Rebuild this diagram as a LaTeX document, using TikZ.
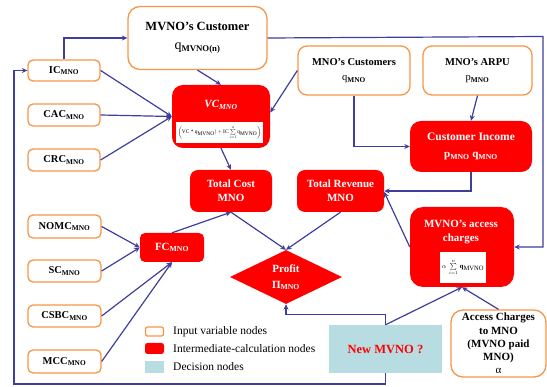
\documentclass[tikz,border=0pt]{standalone}
\usepackage{fontspec}
\usepackage{graphicx}
\setmainfont{Liberation Serif}
\usetikzlibrary{shapes.geometric,arrows.meta}
\definecolor{inorange}{RGB}{247,150,70}
\definecolor{calcred}{RGB}{255,0,0}
\definecolor{decblue}{RGB}{183,221,226}
\definecolor{linkblue}{RGB}{62,62,158}
\newcommand\sub[1]{\textsubscript{#1}}
\newcommand\tx[1]{\mbox{#1}}
\begin{document}
\begin{tikzpicture}[x=1pt,y=-1pt,
  inbox/.style={draw=inorange, line width=1.3pt, rounded corners=5pt, fill=white,
    inner sep=0pt, align=center, font=\bfseries\fontsize{10.5}{13}\selectfont},
  calcbox/.style={fill=calcred, rounded corners=8pt, inner sep=0pt, align=center,
    text=white, font=\bfseries\fontsize{11}{14}\selectfont},
  decbox/.style={fill=decblue, inner sep=0pt, align=center, text=calcred,
    font=\bfseries\fontsize{12.5}{15}\selectfont},
  formula/.style={fill=white, inner sep=0pt},
  legtext/.style={anchor=west, inner sep=0pt, font=\fontsize{11.5}{13}\selectfont},
  link/.style={draw=linkblue, line width=1.2pt, -{Stealth[length=5.5pt,width=5pt]}}]
\useasboundingbox (0,0) rectangle (547,387);

% input variable nodes
\node[inbox, minimum width=139pt, minimum height=63pt, rounded corners=12pt,
  font=\bfseries\fontsize{12.5}{19}\selectfont] (mvc) at (197.5,38)
  {MVNO’s Customer\\{\mdseries\fontsize{14}{16}\selectfont q}\sub{MVNO(n)}};
\node[inbox, minimum width=72pt, minimum height=21pt] (ic) at (64,70.5) {IC\sub{MNO}};
\node[inbox, minimum width=72pt, minimum height=22pt] (cac) at (64,115) {CAC\sub{MNO}};
\node[inbox, minimum width=72pt, minimum height=22pt] (crc) at (64,160) {CRC\sub{MNO}};
\node[inbox, minimum width=73pt, minimum height=23pt] (nomc) at (64.5,226.5) {NOMC\sub{MNO}};
\node[inbox, minimum width=73pt, minimum height=22pt] (sc) at (64.5,271) {SC\sub{MNO}};
\node[inbox, minimum width=73pt, minimum height=22pt] (csbc) at (64.5,316) {CSBC\sub{MNO}};
\node[inbox, minimum width=73pt, minimum height=23pt] (mcc) at (64.5,361.5) {MCC\sub{MNO}};
\node[inbox, minimum width=112pt, minimum height=49pt, rounded corners=9pt,
  font=\bfseries\fontsize{10.5}{15}\selectfont] (mnoc) at (354,70.5)
  {MNO’s Customers\\{\mdseries q}\sub{MNO}};
\node[inbox, minimum width=109pt, minimum height=49pt, rounded corners=9pt,
  font=\bfseries\fontsize{10.5}{15}\selectfont] (arpu) at (477.5,70.5)
  {MNO’s ARPU\\{\mdseries p}\sub{MNO}};
\node[inbox, minimum width=95pt, minimum height=67pt, rounded corners=12pt,
  font=\bfseries\fontsize{11}{13.2}\selectfont] (acc) at (498.5,343.5)
  {Access Charges\\to MNO\\(MVNO paid\\MNO)\\{\mdseries α}};

% intermediate-calculation nodes
\node[calcbox, minimum width=98pt, minimum height=63pt, rounded corners=11pt] (vc) at (221,116.5) {};
\node[inner sep=0pt, text=white, font=\bfseries\itshape\fontsize{11}{13}\selectfont] (vct) at (221,105) {VC\sub{MNO}};
\node[formula, minimum width=87pt, minimum height=21pt] (vcf) at (219.5,132.5)
  {\resizebox{83pt}{!}{$\left(\tx{VC * q}_{\tx{MVNO}}) + \tx{IC} \sum\limits_{i=1}^{n} \tx{q}_{\tx{MVNO}}\right)$}};
\node[calcbox, minimum width=82pt, minimum height=42pt] (tc) at (231,191) {Total Cost\\MNO};
\node[calcbox, minimum width=87pt, minimum height=42pt] (tr) at (340.5,191) {Total Revenue\\MNO};
\node[calcbox, minimum width=122pt, minimum height=51pt, rounded corners=11pt,
  font=\bfseries\fontsize{11.5}{17}\selectfont] (ci) at (471,146.5)
  {Customer Income\\{\fontsize{11}{13}\selectfont p\sub{MNO} q\sub{MNO}}};
\node[calcbox, minimum width=64pt, minimum height=29pt, rounded corners=5pt] (fc) at (172,247.5) {FC\sub{MNO}};
\node[diamond, shape aspect=2, fill=calcred, minimum width=112pt, minimum height=54pt,
  inner sep=0pt, align=center, text=white, font=\bfseries\fontsize{11}{16}\selectfont]
  (profit) at (286,277) {Profit\\Π\sub{MNO}};
\node[calcbox, minimum width=104pt, minimum height=80pt, rounded corners=13pt] (mac) at (462,247) {};
\node[inner sep=0pt, align=center, text=white, font=\bfseries\fontsize{11}{14}\selectfont]
  (mact) at (461,232) {MVNO’s access\\charges};
\node[formula, minimum width=46pt, minimum height=31pt] (macf) at (463,267.5)
  {\resizebox{42pt}{!}{$\alpha\;\sum\limits_{i=1}^{n}\,\tx{\bfseries q}_{\tx{MVNO}}$}};

% decision node
\node[decbox, minimum width=113pt, minimum height=48pt] (newm) at (385.5,349) {New MVNO ?};

% legend
\node[draw=inorange, line width=1.3pt, fill=white, rounded corners=2pt, minimum width=18pt,
  minimum height=9pt, inner sep=0pt] (lin) at (154.5,331.5) {};
\node[fill=calcred, rounded corners=2.5pt, minimum width=19pt, minimum height=11pt,
  inner sep=0pt] (lcalc) at (154.5,348.5) {};
\node[fill=decblue, minimum width=19pt, minimum height=12pt, inner sep=0pt] (ldec) at (154.5,367) {};
\node[legtext] (lint) at (173,331.5) {Input variable nodes};
\node[legtext] (lcalct) at (173,348.5) {Intermediate-calculation nodes};
\node[legtext] (ldect) at (173,367) {Decision nodes};

% connectors
\coordinate (lowleft) at (14,384);
\coordinate (upright) at (543,36.5);
\draw[link] (ic.north) |- (mvc.west);
\draw[link] (mvc.south) -- (vc.north);
\draw[link] (ic.east) -- (vc.west);
\draw[link] (cac.east) -- (vc.west);
\draw[link] (crc.east) -- (vc.west);
\draw[link] (mnoc.west) -- ([yshift=4pt]vc.east);
\draw[link] (vc.south) -- (tc.north);
\draw[link] (mnoc.south) |- (ci.west);
\draw[link] (arpu.south) -- (ci.north);
\draw[link] (ci.south) |- (tr.east);
\draw[link] (mac.west) -- ([yshift=-1pt]tr.east);
\draw[link] (tc.south) -- (profit.north);
\draw[link] (tr.south) -- (profit.north);
\draw[link] (fc.north) -- (tc.south);
\draw[link] (nomc.east) -- (fc.west);
\draw[link] (sc.east) -- (fc.west);
\draw[link] (csbc.east) -- (fc.south);
\draw[link] (mcc.east) -- (fc.south);
\draw[link] (newm.north) -- ++(0,-10) -| (profit.south);
\draw[link] (newm.north) -- (mac.south);
\draw[link] (acc.north) -- (mac.south);
\draw[link] (newm.south) |- (lowleft) |- (ic.west);
\draw[link] (mvc.east) -- (upright) |- (mac.east);
\end{tikzpicture}
\end{document}
